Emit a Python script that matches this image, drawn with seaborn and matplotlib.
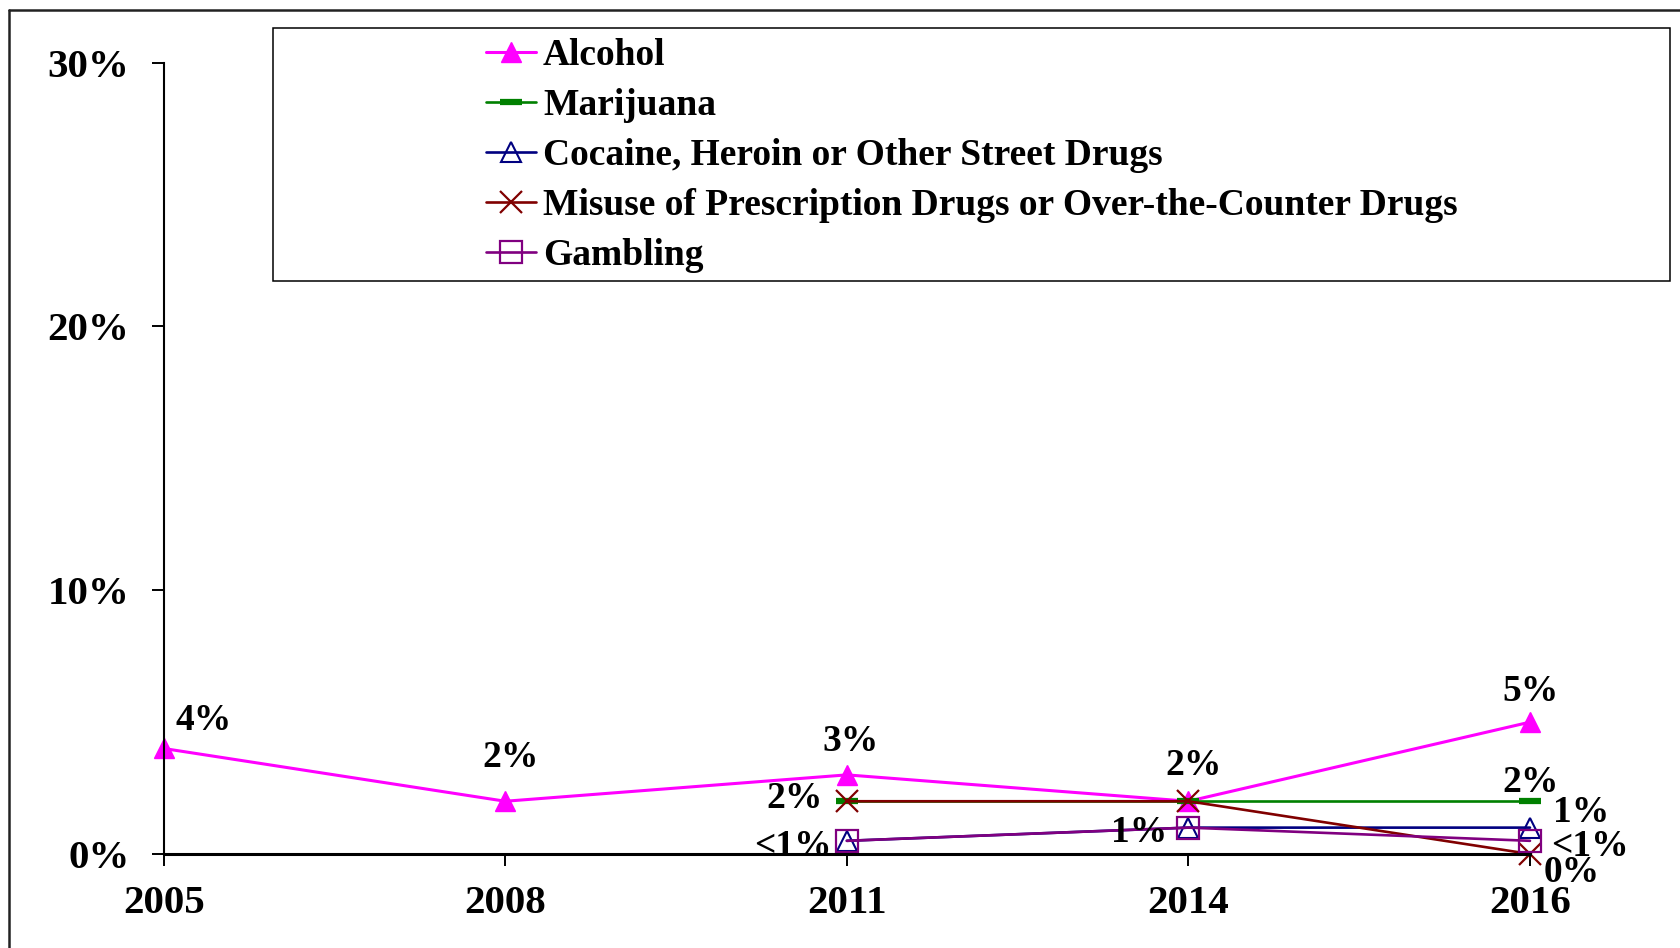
import matplotlib
matplotlib.use("Agg")
import matplotlib.pyplot as plt
import seaborn as sns
import pandas as pd
from matplotlib.lines import Line2D
from matplotlib.patches import Rectangle
from matplotlib.ticker import FuncFormatter

# ---- data ----
years = ["2005", "2008", "2011", "2014", "2016"]
series_names = [
    "Alcohol",
    "Marijuana",
    "Cocaine, Heroin or Other Street Drugs",
    "Misuse of Prescription Drugs or Over-the-Counter Drugs",
    "Gambling",
]
alcohol = [4, 2, 3, 2, 5]
marijuana = [None, None, 2, 2, 2]
cocaine = [None, None, 0.5, 1, 1]
misuse = [None, None, 2, 2, 0]
gambling = [None, None, 0.5, 1, 0.5]
y_ticks = [0, 10, 20, 30]

values = [alcohol, marijuana, cocaine, misuse, gambling]

rows = []
for name, vals in zip(series_names, values):
    for yr, v in zip(years, vals):
        if v is not None:
            rows.append({"series": name, "year": yr, "value": v})
df = pd.DataFrame(rows)

# ---- styling ----
sns.set_style("ticks")
plt.rcParams["font.family"] = ["Liberation Serif", "DejaVu Serif"]
plt.rcParams["font.weight"] = "bold"
plt.rcParams["text.color"] = "black"

styles = {
    "Alcohol": dict(color="#FF00FF", marker="^", ms=14.5, mfc="#FF00FF", mec="#FF00FF", mew=1.0, lw=2.2),
    "Marijuana": dict(color="#008000", marker="_", ms=16, mfc="#008000", mec="#008000", mew=4.5, lw=1.9),
    "Cocaine, Heroin or Other Street Drugs": dict(color="#000080", marker="^", ms=14.5, mfc="none", mec="#000080", mew=1.5, lw=1.9),
    "Misuse of Prescription Drugs or Over-the-Counter Drugs": dict(color="#800000", marker="x", ms=16, mfc="none", mec="#800000", mew=1.6, lw=1.9),
    "Gambling": dict(color="#800080", marker="s", ms=16, mfc="none", mec="#800080", mew=1.6, lw=1.9),
}

W, H = 1681, 948
fig = plt.figure(figsize=(W / 100, H / 100), dpi=100)
ax = fig.add_axes([163.7 / W, 94 / H, (1530 - 163.7) / W, (854 - 62.7) / H])

for name in series_names:
    sub = df[df["series"] == name]
    st = styles[name]
    sns.lineplot(
        data=sub, x="year", y="value", ax=ax, errorbar=None, sort=False,
        color=st["color"], marker=st["marker"], markersize=st["ms"],
        markerfacecolor=st["mfc"], markeredgecolor=st["mec"],
        markeredgewidth=st["mew"], linewidth=st["lw"], label=name,
    )
if ax.get_legend() is not None:
    ax.get_legend().remove()

ax.set_xlim(0, 4)
ax.set_ylim(0, 30)
ax.set_yticks(y_ticks)
ax.yaxis.set_major_formatter(FuncFormatter(lambda v, p: f"{v:g}%"))
ax.set_xlabel("")
ax.set_ylabel("")
for s in ["top", "right"]:
    ax.spines[s].set_visible(False)
ax.spines["left"].set_linewidth(1.5)
ax.spines["bottom"].set_linewidth(2.2)
ax.spines["left"].set_color("black")
ax.spines["bottom"].set_color("black")
ax.tick_params(axis="both", direction="out", length=8.6, width=1.4, color="black",
               labelsize=29.5, labelcolor="black")
ax.tick_params(axis="y", pad=16)
ax.tick_params(axis="x", pad=14)
for lab in ax.get_xticklabels() + ax.get_yticklabels():
    lab.set_fontweight("bold")
for ln in ax.lines:
    ln.set_clip_on(False)


# ---- value labels ----
def fmt(v):
    return "<1%" if 0 < v < 1 else f"{v:g}%"


label_specs = [
    ("Alcohol", "2005", 40, 28),
    ("Alcohol", "2008", 5, 44),
    ("Alcohol", "2011", 4, 33),
    ("Alcohol", "2014", 5, 36),
    ("Alcohol", "2016", 1, 31),
    ("Misuse of Prescription Drugs or Over-the-Counter Drugs", "2011", -52, 3),
    ("Marijuana", "2016", 1, 19),
    ("Gambling", "2011", -54, -6),
    ("Cocaine, Heroin or Other Street Drugs", "2014", -49, -5),
    ("Cocaine, Heroin or Other Street Drugs", "2016", 51, 15),
    ("Gambling", "2016", 60, -6),
    ("Misuse of Prescription Drugs or Over-the-Counter Drugs", "2016", 42, -19),
]
for name, yr, dx, dy in label_specs:
    v = values[series_names.index(name)][years.index(yr)]
    ax.annotate(fmt(v), xy=(years.index(yr), v), xytext=(dx, dy),
                textcoords="offset pixels", ha="center", va="center",
                fontsize=27, fontweight="bold", color="black",
                annotation_clip=False, zorder=10)

# ---- legend ----
handles, labels = ax.get_legend_handles_labels()
leg = fig.legend(handles, labels, loc="upper left",
                 bbox_to_anchor=(486 / W, 1 - 38 / H), bbox_transform=fig.transFigure,
                 frameon=False, prop={"family": "Liberation Serif", "weight": "bold", "size": 27},
                 handlelength=1.33, handletextpad=0.19, labelspacing=0.40,
                 borderpad=0, borderaxespad=0)
for t in leg.get_texts():
    t.set_color("black")
fig.add_artist(Rectangle((273 / W, 1 - 281 / H), (1670 - 273) / W, (281 - 28) / H,
                         transform=fig.transFigure, fill=False, edgecolor="black", lw=1.1))

# ---- outer frame ----
fig.add_artist(Line2D([9.5 / W, 1], [1 - 9.5 / H] * 2, transform=fig.transFigure,
                      color="#222222", lw=1.8))
fig.add_artist(Line2D([9.5 / W] * 2, [0, 1 - 9.5 / H], transform=fig.transFigure,
                      color="#222222", lw=1.8))

fig.savefig("out.png", dpi=100, facecolor="white")
